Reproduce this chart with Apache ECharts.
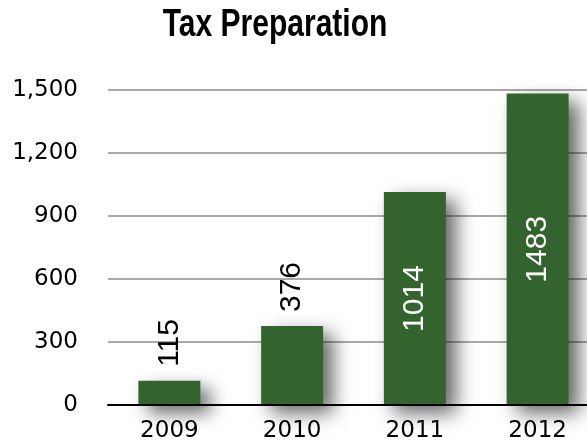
<!DOCTYPE html>
<html>
<head>
<meta charset="utf-8">
<script src="https://cdn.jsdelivr.net/npm/echarts@6/dist/echarts.min.js"></script>
<style>
html,body{margin:0;padding:0;background:#fff;}
#chart{width:587px;height:445px;}
</style>
</head>
<body>
<div id="chart"></div>
<script>
const titleText = 'Tax Preparation';
const categories = ['2009', '2010', '2011', '2012'];
const values = [115, 376, 1014, 1483];
const yTicks = [0, 300, 600, 900, 1200, 1500];

const chart = echarts.init(document.getElementById('chart'), null, {renderer: 'canvas'});

const barData = values.map(function (v) {
  const inside = v > 800;
  return {
    value: v,
    label: inside ? {
      position: 'inside', rotate: 90, align: 'center', verticalAlign: 'middle', color: '#ffffff'
    } : {
      position: 'top', rotate: 90, align: 'left', verticalAlign: 'middle', distance: 14, color: '#000000'
    }
  };
});

chart.setOption({
  animation: false,
  backgroundColor: '#ffffff',
  graphic: [{
    type: 'text',
    x: 275,
    y: 6,
    scaleX: 0.77,
    style: {
      text: titleText,
      textAlign: 'center',
      textVerticalAlign: 'top',
      font: 'bold 39px "Liberation Sans", Arial, sans-serif',
      fill: '#000000'
    }
  }],
  grid: {left: 108, width: 491, top: 90, bottom: 40, containLabel: false, outerBoundsMode: 'none'},
  xAxis: {
    type: 'category',
    data: categories,
    axisTick: {show: false},
    axisLine: {show: true, lineStyle: {color: '#000000', width: 2}},
    axisLabel: {
      margin: 15,
      fontFamily: '"DejaVu Sans", sans-serif',
      fontSize: 23,
      color: '#000000'
    },
    z: 5
  },
  yAxis: {
    type: 'value',
    min: yTicks[0],
    max: yTicks[yTicks.length - 1],
    interval: yTicks[1] - yTicks[0],
    axisLine: {show: false},
    axisTick: {show: false},
    splitLine: {show: true, lineStyle: {color: '#a9a9a9', width: 2}},
    axisLabel: {
      margin: 30,
      fontFamily: '"DejaVu Sans", sans-serif',
      fontSize: 23,
      color: '#000000',
      formatter: function (v) { return v.toLocaleString('en-US'); }
    }
  },
  series: [{
    type: 'bar',
    data: barData,
    barWidth: '50.5%',
    itemStyle: {
      color: '#34642e',
      shadowColor: 'rgba(0,0,0,0.6)',
      shadowBlur: 18,
      shadowOffsetX: 10,
      shadowOffsetY: 8
    },
    label: {
      show: true,
      fontFamily: '"Liberation Sans", Arial, sans-serif',
      fontSize: 30
    }
  }]
});
</script>
</body>
</html>
